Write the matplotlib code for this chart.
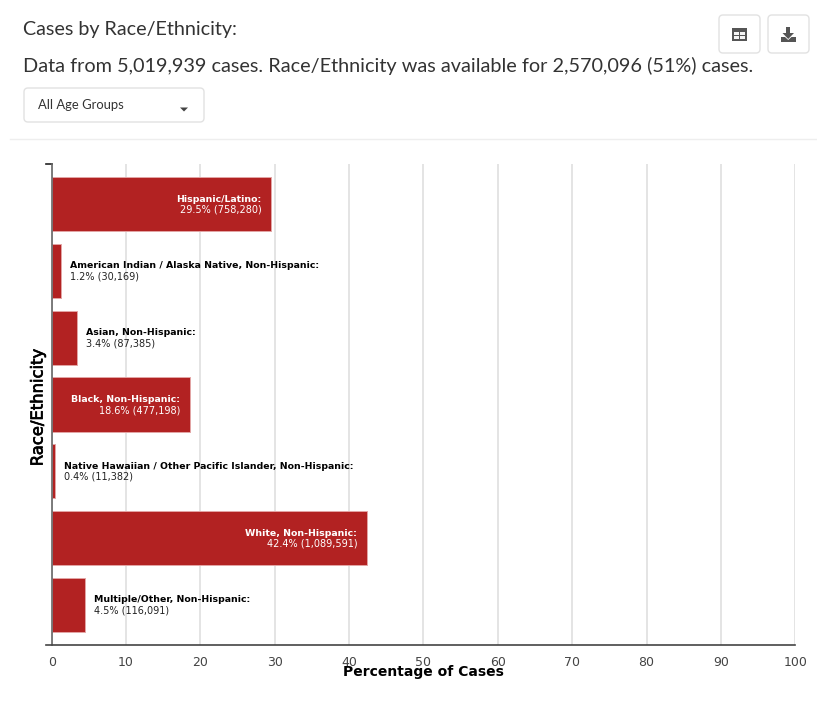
import matplotlib
matplotlib.use("Agg")
import matplotlib.pyplot as plt
import matplotlib.patheffects as pe
from matplotlib.patches import FancyBboxPatch, Rectangle, Polygon
from matplotlib.lines import Line2D

categories = ["Hispanic/Latino:", "American Indian / Alaska Native, Non-Hispanic:",
              "Asian, Non-Hispanic:", "Black, Non-Hispanic:",
              "Native Hawaiian / Other Pacific Islander, Non-Hispanic:",
              "White, Non-Hispanic:", "Multiple/Other, Non-Hispanic:"]
percent = [29.5, 1.2, 3.4, 18.6, 0.4, 42.4, 4.5]
counts = ["758,280", "30,169", "87,385", "477,198", "11,382", "1,089,591", "116,091"]
inside = [True, False, False, True, False, True, False]
xticks = list(range(0, 101, 10))

W, H = 817, 702
RED = "#b22222"
fig = plt.figure(figsize=(W/100, H/100), dpi=100, facecolor="white")

# pixel overlay for page furniture
ov = fig.add_axes([0, 0, 1, 1], zorder=2)
ov.patch.set_alpha(0)
ov.set_xlim(0, W); ov.set_ylim(H, 0); ov.axis("off")
ink = "#333333"
ov.text(23.5, 29, "Cases by Race/Ethnicity:", family="Lato", fontsize=14.25, color=ink, va="center")
ov.text(23.5, 66, "Data from 5,019,939 cases. Race/Ethnicity was available for 2,570,096 (51%) cases.",
        family="Lato", fontsize=14.3, color=ink, va="center")
ov.text(38, 105, "All Age Groups", family="Lato", fontsize=9.4, color=ink, va="center")
for x0, y0, w, h in [(24, 88, 180, 34), (719, 15, 41, 38), (768, 15, 41, 38)]:
    ov.add_patch(FancyBboxPatch((x0+3, y0+3), w-6, h-6, boxstyle="round,pad=3,rounding_size=4",
                                fc="white", ec="#e2e2e2", lw=1))
ov.add_patch(Polygon([(180, 107.5), (188, 107.5), (184, 111.5)], fc="#444444", lw=0, zorder=5))
ov.add_line(Line2D([10, 817], [138.5, 138.5], color="#eeeeee", lw=1))
# table icon
ov.add_patch(Rectangle((732.5, 28), 14.5, 12.5, fc="#555555", ec="none", zorder=5))
for rx, ry in [(734.2, 31.5), (740.4, 31.5), (734.2, 36), (740.4, 36)]:
    ov.add_patch(Rectangle((rx, ry), 5, 3, fc="#f4f4f4", ec="none", zorder=6))
# download icon
ov.add_patch(Rectangle((786.2, 27), 4, 7, fc="#555555", ec="none", zorder=5))
ov.add_patch(Polygon([(782.5, 33), (794, 33), (788.2, 39)], fc="#555555", lw=0, zorder=5))
ov.add_patch(Polygon([(781, 37), (785, 37), (788.2, 40), (791.5, 37), (796, 37), (796, 42), (781, 42)],
                     fc="#555555", lw=0, zorder=5))

L, R, T, B = 51.7, 795.2, 164, 645
ax = fig.add_axes([L/W, 1-B/H, (R-L)/W, (B-T)/H], zorder=1)
ax.patch.set_alpha(0)
ax.set_xlim(0, 100); ax.set_ylim(6.6, -0.6)
ax.set_axisbelow(True)
ax.grid(axis="x", color="#dddddd", lw=1.1)
ypos = range(len(categories))
ax.barh(list(ypos), percent, height=0.81, color=RED, edgecolor="#e3a5a5", linewidth=0.7)

for y, c, p, n, ins in zip(ypos, categories, percent, counts, inside):
    second = f"{p}% ({n})"
    if ins:
        x = p - 1.3; ha = "right"; col = "white"
    else:
        x = p + 1.2; ha = "left"; col = "black"
    ax.text(x, y-0.075, c, fontsize=6.77, fontweight="bold", color=col, ha=ha, va="center")
    ax.text(x, y+0.085, second, fontsize=7.0, color=col if ins else "#222222", ha=ha, va="center")

for s in ["top", "right"]:
    ax.spines[s].set_visible(False)
ax.spines["left"].set_color("#666666")
ax.spines["bottom"].set_color("#444444")
ax.spines["bottom"].set_bounds(-0.7, 100)
ax.spines["left"].set_linewidth(1.2); ax.spines["bottom"].set_linewidth(1.2)
ax.set_xticks(xticks)
ax.tick_params(axis="x", length=0, pad=8, labelsize=9, labelcolor="#444444")
ax.set_yticks([])
ax.add_line(Line2D([-0.8, 0], [-0.6, -0.6], color="#222222", lw=1.2, clip_on=False))
ov.text(423, 672, "Percentage of Cases", fontsize=10, fontweight="bold", color="black", ha="center", va="center")
ov.text(38, 407.5, "Race/Ethnicity", fontsize=11.8, color="black", ha="center", va="center", rotation=90,
        path_effects=[pe.withStroke(linewidth=0.5, foreground="black")])
fig.savefig("out.png", dpi=100, facecolor="white")
